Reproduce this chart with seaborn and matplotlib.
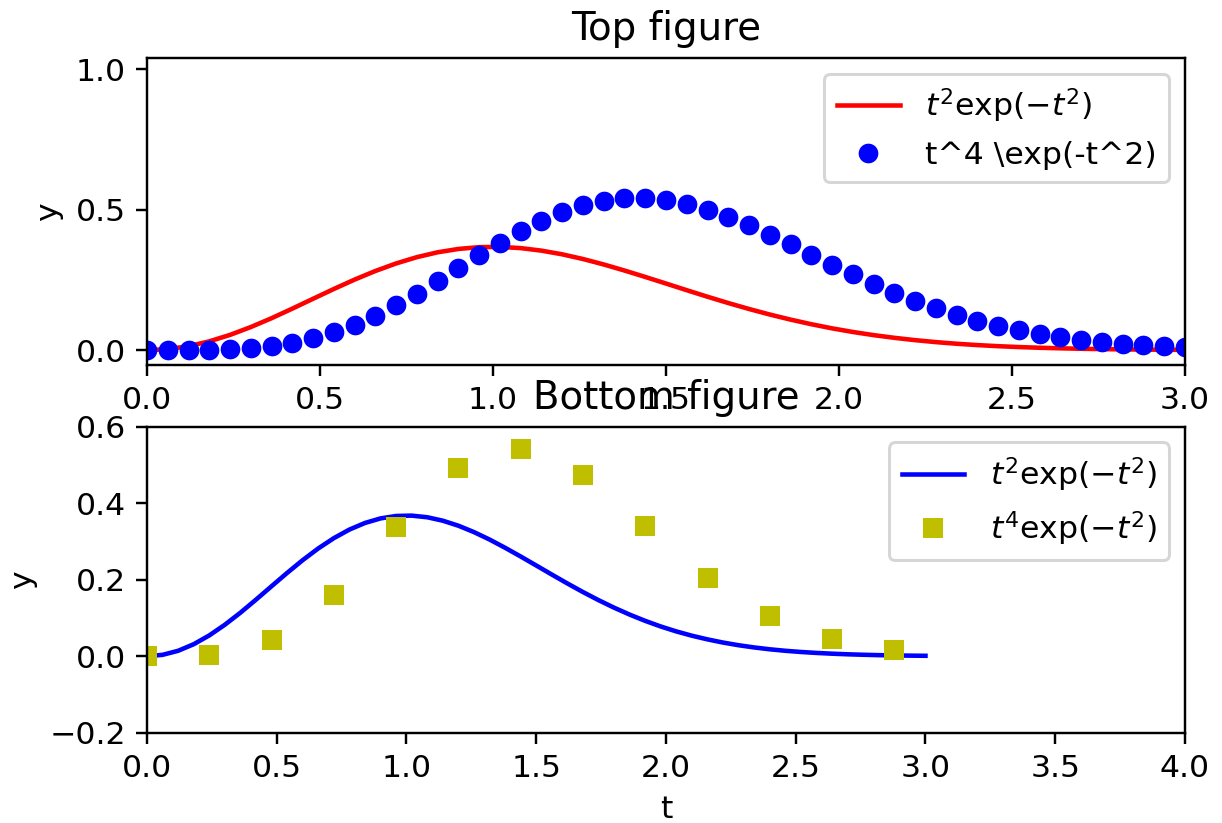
import matplotlib
matplotlib.use("Agg")
import matplotlib.pyplot as plt
import seaborn as sns
import pandas as pd

# sample times (0 .. 3, step 0.06)
t = [0.00, 0.06, 0.12, 0.18, 0.24, 0.30, 0.36, 0.42, 0.48, 0.54,
     0.60, 0.66, 0.72, 0.78, 0.84, 0.90, 0.96, 1.02, 1.08, 1.14,
     1.20, 1.26, 1.32, 1.38, 1.44, 1.50, 1.56, 1.62, 1.68, 1.74,
     1.80, 1.86, 1.92, 1.98, 2.04, 2.10, 2.16, 2.22, 2.28, 2.34,
     2.40, 2.46, 2.52, 2.58, 2.64, 2.70, 2.76, 2.82, 2.88, 2.94, 3.00]

# t^2 exp(-t^2)
y_sq = [0.0000, 0.0036, 0.0142, 0.0314, 0.0544, 0.0823, 0.1138, 0.1479, 0.1830, 0.2178,
        0.2512, 0.2818, 0.3087, 0.3311, 0.3484, 0.3603, 0.3667, 0.3676, 0.3633, 0.3543,
        0.3412, 0.3245, 0.3051, 0.2835, 0.2607, 0.2372, 0.2135, 0.1902, 0.1678, 0.1466,
        0.1269, 0.1088, 0.0924, 0.0777, 0.0648, 0.0536, 0.0440, 0.0357, 0.0287, 0.0229,
        0.0181, 0.0142, 0.0111, 0.0086, 0.0066, 0.0050, 0.0038, 0.0028, 0.0021, 0.0015, 0.0011]

# t^4 exp(-t^2)
y_quad = [0.0000, 0.0000, 0.0002, 0.0010, 0.0031, 0.0074, 0.0148, 0.0261, 0.0422, 0.0635,
          0.0904, 0.1227, 0.1600, 0.2014, 0.2459, 0.2919, 0.3379, 0.3824, 0.4238, 0.4605,
          0.4913, 0.5152, 0.5315, 0.5399, 0.5407, 0.5336, 0.5196, 0.4991, 0.4736, 0.4439,
          0.4111, 0.3763, 0.3405, 0.3048, 0.2698, 0.2364, 0.2051, 0.1759, 0.1493, 0.1254,
          0.1044, 0.0862, 0.0704, 0.0570, 0.0457, 0.0363, 0.0286, 0.0223, 0.0172, 0.0132, 0.0100]

# every 4th sample for the bottom squares
t_sq = [0.00, 0.24, 0.48, 0.72, 0.96, 1.20, 1.44, 1.68, 1.92, 2.16, 2.40, 2.64, 2.88]
y_sq_pts = [0.0000, 0.0031, 0.0422, 0.1600, 0.3379, 0.4913, 0.5407, 0.4736, 0.3405, 0.2051,
            0.1044, 0.0457, 0.0172]

top_title = "Top figure"
bottom_title = "Bottom figure"
lab_line = r"$t^2\exp(-t^2)$"
lab_dots = r"t^4 \exp(-t^2)"
lab_squares = r"$t^4\exp(-t^2)$"

df = pd.DataFrame({"t": t, "y2": y_sq, "y4": y_quad})
df_sq = pd.DataFrame({"t": t_sq, "y4": y_sq_pts})

plt.rcParams["font.size"] = 10.4

DPI = 218
fig = plt.figure(figsize=(1222 / DPI, 823 / DPI), dpi=DPI)
ax1 = fig.add_axes([0.1203, 0.5571, 0.9697 - 0.1203, 0.9292 - 0.5571])
ax2 = fig.add_axes([0.1203, 0.1097, 0.9697 - 0.1203, 0.4815 - 0.1097])

sns.lineplot(data=df, x="t", y="y2", ax=ax1, color="r", linewidth=1.5, label=lab_line)
sns.lineplot(data=df, x="t", y="y4", ax=ax1, color="b", linestyle="", marker="o",
             markersize=6.5, markeredgewidth=0, label=lab_dots)
ax1.set_xlim(0, 3)
ax1.set_ylim(-0.051, 1.039)
ax1.set_yticks([0.0, 0.5, 1.0])
ax1.set_title(top_title, fontsize=12.8)
ax1.set_xlabel("")
ax1.set_ylabel("y")
ax1.legend(loc="upper right")

sns.lineplot(data=df, x="t", y="y2", ax=ax2, color="b", linewidth=1.5, label=lab_line)
sns.lineplot(data=df_sq, x="t", y="y4", ax=ax2, color="y", linestyle="", marker="s",
             markersize=6.5, markeredgewidth=0, label=lab_squares)
ax2.set_xlim(0, 4)
ax2.set_ylim(-0.2, 0.6)
ax2.set_title(bottom_title, fontsize=12.8)
ax2.set_xlabel("t")
ax2.set_ylabel("y")
ax2.legend(loc="upper right")

fig.savefig("out.png", dpi=DPI)
